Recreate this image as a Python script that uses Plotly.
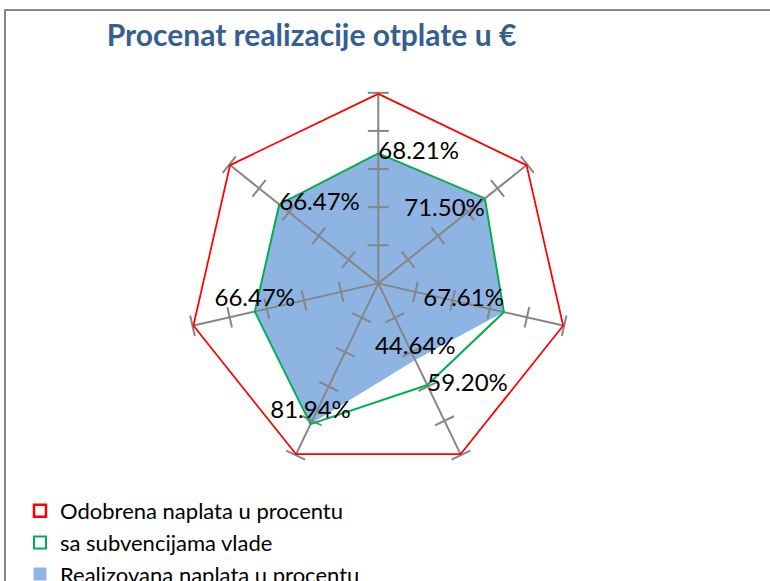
import plotly.graph_objects as go

# data
categories = ["PR", "PZ", "PE", "MIT", "GJA", "FE", "GJI"]
odobrena = [100, 100, 100, 100, 100, 100, 100]
subvencije = [68.21, 71.50, 67.61, 59.20, 81.94, 66.47, 66.47]
realizovana = [68.21, 71.50, 67.61, 44.64, 81.94, 66.47, 66.47]
radial_ticks = [20, 40, 60, 80, 100]

names = ["Odobrena naplata u procentu", "sa subvencijama vlade", "Realizovana naplata u procentu"]

RED = "#FF0000"
GREEN = "#00B050"
BLUE = "#8EB4E3"
GRAY = "#868686"
FONT = "Lato"

# the figure is a bit taller than the window so the last legend row is cut like the original
W, H = 770, 610
R_MAX = 100
LABEL_R = R_MAX * 1.04  # category names sit a little outside the outer vertices


def closed(vals):
    return list(vals) + [vals[0]]


def from_top(px):
    return 1 - px / H


fig = go.Figure()

# blue filled area
fig.add_trace(go.Scatterpolar(
    r=closed(realizovana), theta=closed(categories),
    mode="lines", fill="toself", fillcolor=BLUE,
    line=dict(width=0, color=BLUE), showlegend=False, hoverinfo="skip"))

# spokes (drawn as a trace so they sit above the fill, like Excel)
spoke_r, spoke_t = [], []
for cat in categories:
    spoke_r += [0, R_MAX, None]
    spoke_t += [cat, cat, None]
fig.add_trace(go.Scatterpolar(
    r=spoke_r, theta=spoke_t, mode="lines",
    line=dict(color=GRAY, width=2), showlegend=False, hoverinfo="skip"))

# tick marks across every spoke
tick_r, tick_t, tick_a = [], [], []
for i, cat in enumerate(categories):
    for v in radial_ticks:
        tick_r.append(v)
        tick_t.append(cat)
        tick_a.append(i * 360 / len(categories))
fig.add_trace(go.Scatterpolar(
    r=tick_r, theta=tick_t, mode="markers",
    marker=dict(symbol="line-ew", size=15, angle=tick_a,
                line=dict(color=GRAY, width=2)),
    showlegend=False, hoverinfo="skip"))

# green line
fig.add_trace(go.Scatterpolar(
    r=closed(subvencije), theta=closed(categories),
    mode="lines", line=dict(color=GREEN, width=2),
    showlegend=False))

# red line
fig.add_trace(go.Scatterpolar(
    r=closed(odobrena), theta=closed(categories),
    mode="lines", line=dict(color=RED, width=3.5),
    showlegend=False))

# category names next to the outer vertices
cat_pos = ["top center", "middle right", "middle right", "middle right",
           "middle left", "middle left", "middle left"]
fig.add_trace(go.Scatterpolar(
    r=[LABEL_R] * len(categories), theta=categories, mode="text",
    text=categories, textposition=cat_pos, cliponaxis=False,
    textfont=dict(family=FONT, size=22, color="black"),
    showlegend=False, hoverinfo="skip"))

# data labels
label_pos = ["middle right", "bottom left", "top left", "top center",
             "top center", "top center", "middle right"]
fig.add_trace(go.Scatterpolar(
    r=realizovana, theta=categories, mode="text",
    text=[f"{v:.2f}%" for v in realizovana],
    textposition=label_pos, cliponaxis=False,
    textfont=dict(family=FONT, size=24, color="black"),
    showlegend=False, hoverinfo="skip"))

diff_idx = [i for i in range(len(categories)) if subvencije[i] != realizovana[i]]
fig.add_trace(go.Scatterpolar(
    r=[subvencije[i] for i in diff_idx], theta=[categories[i] for i in diff_idx],
    mode="text", text=[f"{subvencije[i]:.2f}%" for i in diff_idx],
    textposition="middle right", cliponaxis=False,
    textfont=dict(family=FONT, size=24, color="black"),
    showlegend=False, hoverinfo="skip"))

# legend entries
fig.add_trace(go.Scatterpolar(
    r=[None], theta=[None], mode="markers", name=names[0],
    marker=dict(symbol="square-open", size=12, color=RED, line=dict(width=2.5, color=RED))))
fig.add_trace(go.Scatterpolar(
    r=[None], theta=[None], mode="markers", name=names[1],
    marker=dict(symbol="square-open", size=12, color=GREEN, line=dict(width=2, color=GREEN))))
fig.add_trace(go.Scatterpolar(
    r=[None], theta=[None], mode="markers", name=names[2],
    marker=dict(symbol="square", size=13, color=BLUE)))

# polar centre and radius in pixels from top-left
cx, cy, rad = 378.3, 283.4, 190.6

fig.update_layout(
    width=W, height=H,
    margin=dict(l=0, r=0, t=0, b=0),
    paper_bgcolor="white",
    font=dict(family=FONT, color="black"),
    title=dict(text="<b>Procenat realizacije otplate u €</b>",
               x=311.5 / W, xanchor="center", y=from_top(35), yanchor="middle",
               font=dict(family=FONT, size=30, color="#365F91")),
    polar=dict(
        domain=dict(x=[(cx - rad) / W, (cx + rad) / W],
                    y=[from_top(cy + rad), from_top(cy - rad)]),
        gridshape="linear",
        bgcolor="white",
        radialaxis=dict(range=[0, R_MAX], showgrid=False, showline=False,
                        showticklabels=False, ticks=""),
        angularaxis=dict(direction="clockwise", rotation=90,
                         showgrid=False, showline=False,
                         showticklabels=False, ticks=""),
    ),
    legend=dict(x=20 / W, xanchor="left", y=from_top(490), yanchor="top",
                font=dict(family=FONT, size=22, color="black"),
                bgcolor="rgba(0,0,0,0)", tracegroupgap=0),
    shapes=[dict(type="rect", xref="paper", yref="paper",
                 x0=5 / W, x1=1.05, y0=-0.05, y1=from_top(10),
                 line=dict(color=GRAY, width=2))],
)

fig.write_html("out.html", config={"displayModeBar": False},
               post_script="document.body.style.margin='0';document.body.style.overflow='hidden';")
